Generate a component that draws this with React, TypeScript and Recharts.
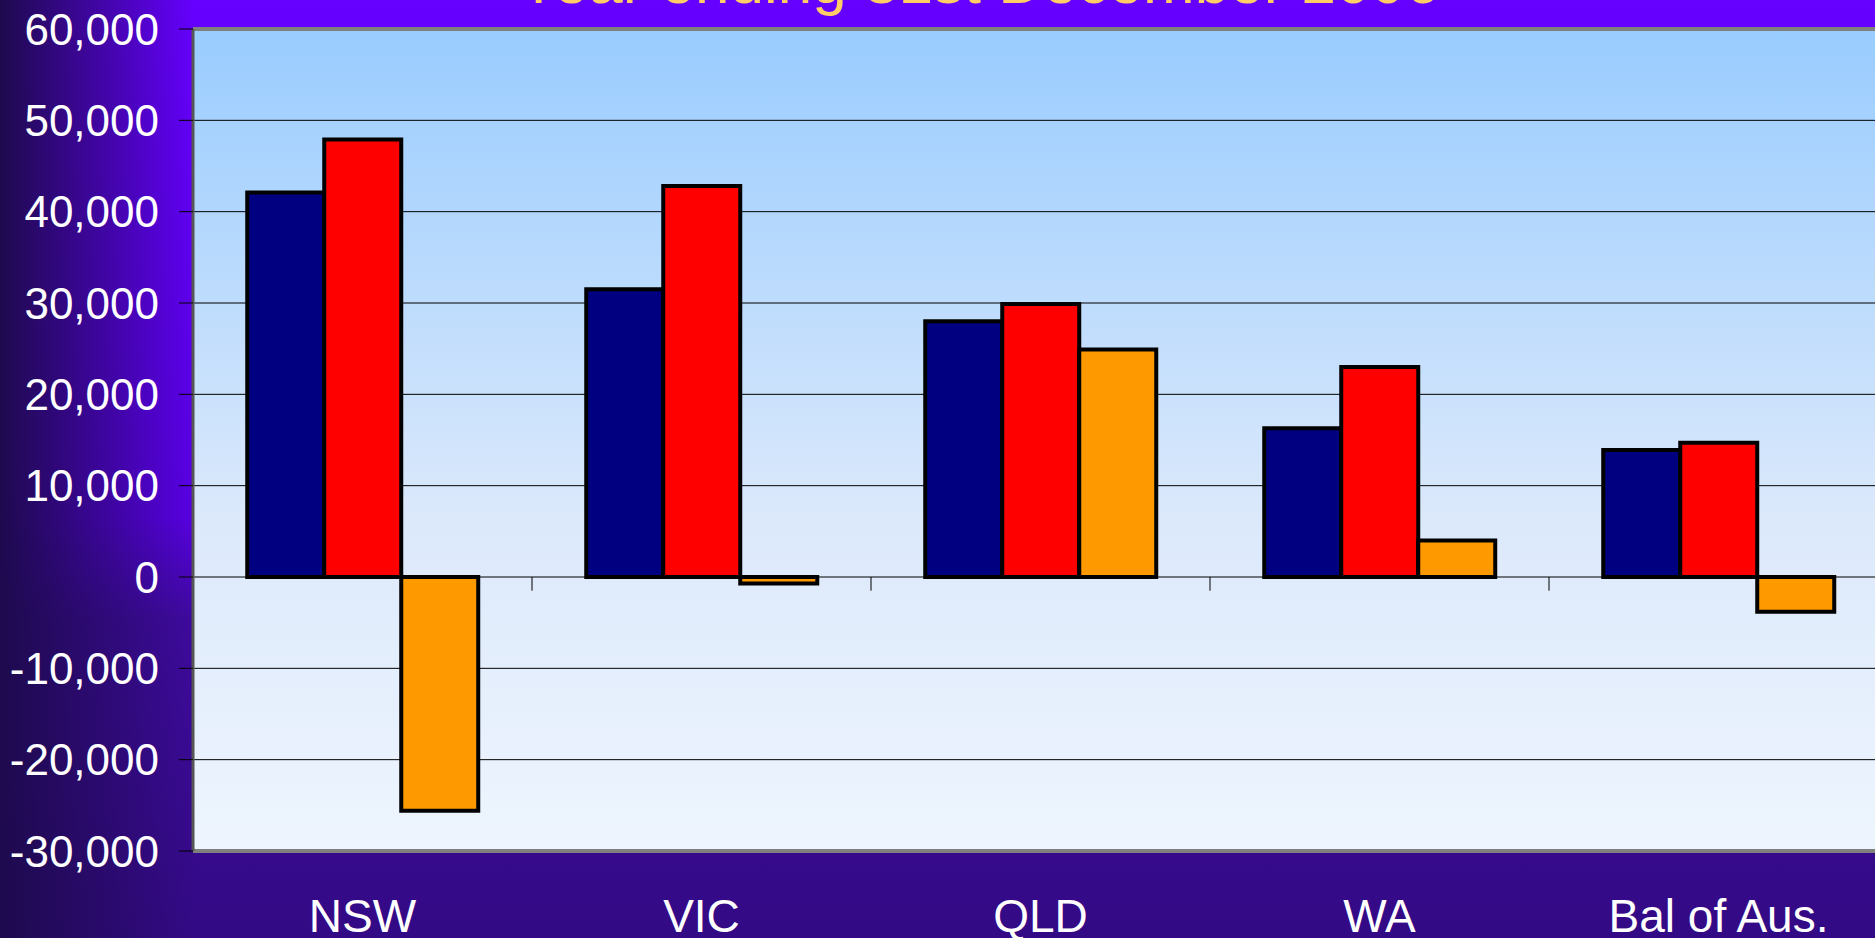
import React from 'react';
import {
  BarChart,
  Bar,
  XAxis,
  YAxis,
  CartesianGrid,
  ReferenceLine,
} from 'recharts';

// population growth components, year ending 31 Dec 2006
const states = ['NSW', 'VIC', 'QLD', 'WA', 'Bal of Aus.'];
const naturalIncrease = [42100, 31500, 28000, 16300, 13900];
const netOverseas = [47900, 42800, 29900, 23000, 14700];
const netInterstate = [-25600, -700, 24900, 4000, -3800];
const yTicks = [-30000, -20000, -10000, 0, 10000, 20000, 30000, 40000, 50000, 60000];

const data = states.map((s, i) => ({
  name: s,
  natural: naturalIncrease[i],
  overseas: netOverseas[i],
  interstate: netInterstate[i],
}));

const CategoryTick = ({ x, y, payload }: any) => (
  <text
    x={x}
    y={y}
    dy={79}
    textAnchor="middle"
    fill="#fff"
    fontSize={46}
    fontFamily="'Liberation Sans', Arial, sans-serif"
  >
    {payload.value}
  </text>
);

export default function App() {
  return (
    <div
      style={{
        position: 'absolute',
        left: 0,
        top: 0,
        width: 1875,
        height: 938,
        overflow: 'hidden',
        background:
          'linear-gradient(to right, rgba(30,10,78,1) 0px, rgba(30,10,78,0.4) 120px, rgba(30,10,78,0) 195px), linear-gradient(to bottom, #6600ff 0%, #5800e4 55%, #3e0a9e 66%, #330a85 100%)',
        fontFamily: "'Liberation Sans', Arial, sans-serif",
      }}
    >
      <div
        style={{
          position: 'absolute',
          left: 518,
          top: -49,
          fontSize: 62,
          lineHeight: '62px',
          color: '#ffcc66',
          whiteSpace: 'nowrap',
        }}
      >
        Year ending 31st December 2006
      </div>
      <BarChart
        width={1900}
        height={938}
        data={data}
        margin={{ top: 29, right: 12, left: 0, bottom: 0 }}
        barCategoryGap="16%"
        barGap={0}
        style={{ position: 'absolute', left: 0, top: 0 }}
      >
        <defs>
          <linearGradient id="plotBg" x1="0" y1="0" x2="0" y2="1">
            <stop offset="0%" stopColor="#99ccff" />
            <stop offset="60%" stopColor="#dce9fb" />
            <stop offset="100%" stopColor="#eef5fe" />
          </linearGradient>
        </defs>
        <CartesianGrid
          vertical={false}
          stroke="#000"
          strokeWidth={1}
          fill="url(#plotBg)"
          fillOpacity={1}
        />
        <XAxis
          dataKey="name"
          height={87}
          axisLine={false}
          tickLine={false}
          tickSize={0}
          tick={<CategoryTick />}
          interval={0}
        />
        <YAxis
          width={193}
          domain={[-30000, 60000]}
          ticks={yTicks}
          interval={0}
          tickSize={14}
          tickMargin={20}
          tickLine={{ stroke: '#000' }}
          axisLine={{ stroke: '#555', strokeWidth: 3 }}
          tickFormatter={(v: number) => v.toLocaleString('en-US')}
          tick={{ fill: '#fff', fontSize: 44 }}
        />
        <ReferenceLine y={60000} stroke="#808080" strokeWidth={4} />
        <ReferenceLine y={-30000} stroke="#808080" strokeWidth={4} />
        {states.slice(1).map((s) => (
          <ReferenceLine
            key={s}
            position="start"
            segment={[
              { x: s, y: 0 },
              { x: s, y: -1500 },
            ]}
            stroke="#000"
            strokeWidth={1}
          />
        ))}
        <Bar dataKey="natural" fill="#000080" stroke="#000" strokeWidth={4} isAnimationActive={false} />
        <Bar dataKey="overseas" fill="#ff0000" stroke="#000" strokeWidth={4} isAnimationActive={false} />
        <Bar dataKey="interstate" fill="#ff9900" stroke="#000" strokeWidth={4} isAnimationActive={false} />
      </BarChart>
    </div>
  );
}
